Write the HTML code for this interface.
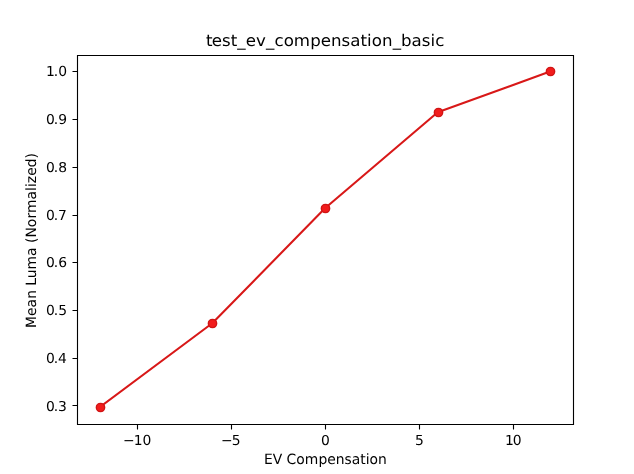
<!DOCTYPE html>
<html><head><meta charset="utf-8"><title>test_ev_compensation_basic</title><style>
html,body{margin:0;padding:0;background:#fff;overflow:hidden;}
svg{display:block;}
.t text{filter:grayscale(1);text-rendering:geometricPrecision;}
</style></head><body>
<svg width="634" height="474" viewBox="0 0 634 474">
<rect x="0" y="0" width="634" height="474" fill="#fff"/>
<polyline points="99.55,407.40 212.27,323.28 325.00,208.29 437.73,112.29 550.45,71.40" fill="none" stroke="#d81818" stroke-width="2.083" stroke-linecap="square" stroke-linejoin="round"/>
<circle cx="100.5" cy="407.5" r="4.167" fill="#f21c1c" stroke="#d01414" stroke-width="1.389"/>
<circle cx="212.5" cy="323.5" r="4.167" fill="#f21c1c" stroke="#d01414" stroke-width="1.389"/>
<circle cx="325.5" cy="208.5" r="4.167" fill="#f21c1c" stroke="#d01414" stroke-width="1.389"/>
<circle cx="438.5" cy="112.5" r="4.167" fill="#f21c1c" stroke="#d01414" stroke-width="1.389"/>
<circle cx="550.5" cy="71.5" r="4.167" fill="#f21c1c" stroke="#d01414" stroke-width="1.389"/>
<path d="M77.5 424.5V55.5M573.5 424.5V55.5M76.944 424.5H574.056M76.944 55.5H574.056" stroke="#000000" stroke-width="1.111" fill="none"/>
<path d="M137.5 424.5v5.000M231.5 424.5v5.000M325.5 424.5v5.000M419.5 424.5v5.000M513.5 424.5v5.000M77.5 71.5h-5.000M77.5 119.5h-5.000M77.5 167.5h-5.000M77.5 215.5h-5.000M77.5 262.5h-5.000M77.5 310.5h-5.000M77.5 358.5h-5.000M77.5 405.5h-5.000" stroke="#000" stroke-width="1.111" fill="none"/>
<g font-family="'DejaVu Sans', 'Liberation Sans', sans-serif" fill="#000" class="t">
<text id="xt0" x="122.98 133.76 142.43" y="444.500" text-anchor="start" font-size="13.8889">−10</text>
<text id="xt1" x="220.93 231.65" y="444.500" text-anchor="start" font-size="13.8889">−5</text>
<text id="xt2" x="321.09" y="444.500" transform="translate(0 444.500) scale(1 0.9800) translate(0 -444.500)" text-anchor="start" font-size="13.8889">0</text>
<text id="xt3" x="415.02" y="444.500" text-anchor="start" font-size="13.8889">5</text>
<text id="xt4" x="505.00 512.76" y="444.500" text-anchor="start" font-size="13.8889">10</text>
<text id="yt0" x="46.05 53.66 58.08" y="411.000" transform="translate(0 411.000) scale(1 0.9800) translate(0 -411.000)" text-anchor="start" font-size="13.8889">0.3</text>
<text id="yt1" x="46.05 53.66 58.08" y="363.000" text-anchor="start" font-size="13.8889">0.4</text>
<text id="yt2" x="46.05 53.66 58.23" y="315.000" text-anchor="start" font-size="13.8889">0.5</text>
<text id="yt3" x="46.05 53.66 58.23" y="267.000" transform="translate(0 267.000) scale(1 0.9800) translate(0 -267.000)" text-anchor="start" font-size="13.8889">0.6</text>
<text id="yt4" x="46.05 53.66 58.08" y="220.000" text-anchor="start" font-size="13.8889">0.7</text>
<text id="yt5" x="46.05 53.66 58.23" y="172.000" transform="translate(0 172.000) scale(1 0.9800) translate(0 -172.000)" text-anchor="start" font-size="13.8889">0.8</text>
<text id="yt6" x="46.05 53.66 58.23" y="124.000" transform="translate(0 124.000) scale(1 0.9800) translate(0 -124.000)" text-anchor="start" font-size="13.8889">0.9</text>
<text id="yt7" x="45.95 53.76 58.18" y="76.000" text-anchor="start" font-size="13.8889">1.0</text>
<text id="xl" x="264.09 272.86 282.34 286.45 296.14 304.64 318.45 327.25 335.80 344.58 351.81 360.31 365.75 369.61 378.09" y="463.500" transform="translate(0 463.500) scale(1 1.0200) translate(0 -463.500)" text-anchor="start" font-size="13.8889">EV Compensation</text>
<text id="yl" x="-51.77 -39.80 -31.27 -22.62 -13.68 -9.57 -2.09 6.71 20.23 29.03 33.15 38.56 48.93 57.73 63.18 76.70 85.20 89.06 92.92 100.35 108.88 117.54" y="239.000" transform="rotate(-90 36.746 239.400) translate(0 239.000) scale(1 1.0200) translate(0 -239.000)" text-anchor="start" font-size="13.8889">Mean Luma (Normalized)</text>
<text id="title" x="205.97 211.63 221.88 230.82 237.35 245.68 255.92 266.07 274.40 283.86 293.76 310.28 320.86 331.11 341.51 350.34 360.55 367.08 371.70 381.89 392.75 400.93 411.49 421.71 430.38 435.16" y="46.000" transform="translate(0 46.000) scale(1 0.9600) translate(0 -46.000)" text-anchor="start" font-size="16.6667">test_ev_compensation_basic</text>
</g>
</svg>
</body></html>
